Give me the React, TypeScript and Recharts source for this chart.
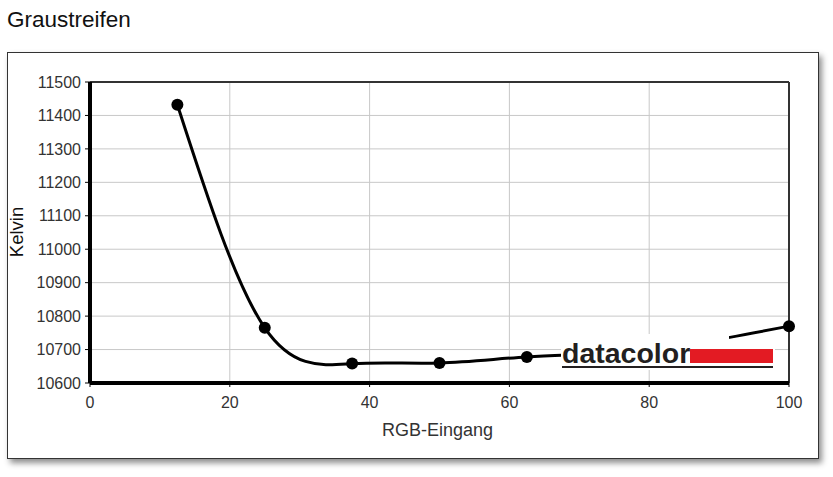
import React from 'react';
import {
  LineChart, Line, XAxis, YAxis, CartesianGrid, ReferenceLine
} from 'recharts';

// RGB input (%) vs. colour temperature (K)
const rgbInput = [12.5, 25, 37.5, 50, 62.5, 75, 87.5, 100];
const kelvin = [11432, 10765, 10658, 10660, 10678, 10690, 10722, 10770];
const xTicks = [0, 20, 40, 60, 80, 100];
const yTicks = [10600, 10700, 10800, 10900, 11000, 11100, 11200, 11300, 11400, 11500];

const data = rgbInput.map((x, i) => ({ x, k: kelvin[i] }));

const font = 'Arial, "Liberation Sans", sans-serif';

// datacolor watermark, sits on top of the curve like in the original export
const Logo = () => (
  <div style={{ position: 'absolute', left: 561, top: 334, width: 214, height: 36 }}>
    <div style={{ position: 'absolute', left: 0, top: 0, width: 168, height: 36, background: '#fff' }} />
    <div style={{ position: 'absolute', left: 128, top: 12, width: 86, height: 24, background: '#fff' }} />
    <div style={{
      position: 'absolute', left: 1, top: 3, fontFamily: font, fontWeight: 'bold',
      fontSize: 28.5, color: '#231f20', lineHeight: '32px', whiteSpace: 'nowrap'
    }}>datacolor</div>
    <div style={{ position: 'absolute', left: 129, top: 15, width: 83, height: 14, background: '#e31b23' }} />
    <div style={{ position: 'absolute', left: 1, top: 32, width: 211, height: 2, background: '#231f20' }} />
  </div>
);

const KelvinLabel = () => (
  <text x={16} y={232} transform="rotate(-90 16 232)" textAnchor="middle" dominantBaseline="central"
    fill="#111" fontSize={18.5} fontFamily={font}>Kelvin</text>
);

const RgbLabel = ({ viewBox }: any) => (
  <text x={viewBox.x + viewBox.width / 2 - 2} y={430} textAnchor="middle" dominantBaseline="central"
    fill="#333" fontSize={18} fontFamily={font}>RGB-Eingang</text>
);

export default function App() {
  return (
    <div style={{ position: 'absolute', left: 0, top: 0, width: 833, height: 477, background: '#fff', fontFamily: font }}>
      <div style={{ position: 'absolute', left: 7, top: 7, fontSize: 22.5, color: '#111' }}>Graustreifen</div>
      <div style={{
        position: 'absolute', left: 7, top: 52, width: 810, height: 405,
        border: '1px solid #333', boxShadow: '3px 4px 6px rgba(0,0,0,0.45)', background: '#fff'
      }} />
      <div style={{ position: 'absolute', left: 0, top: 0 }}>
        <LineChart
          width={833}
          height={477}
          data={data}
          margin={{ top: 82, right: 44, left: 30, bottom: 64 }}
        >
          <CartesianGrid stroke="#c8c8c8" strokeWidth={1} />
          <XAxis
            dataKey="x"
            type="number"
            domain={[0, 100]}
            ticks={xTicks}
            height={30}
            axisLine={{ stroke: '#000', strokeWidth: 4 }}
            tickLine={{ stroke: '#000' }}
            tickSize={4}
            tickMargin={10}
            tick={{ fill: '#333', fontSize: 16, fontFamily: font }}
            label={<RgbLabel />}
          />
          <YAxis
            type="number"
            domain={[10600, 11500]}
            ticks={yTicks}
            width={60}
            interval={0}
            axisLine={{ stroke: '#000', strokeWidth: 4 }}
            tickLine={{ stroke: '#000' }}
            tickSize={5}
            tickMargin={4}
            tick={{ fill: '#333', fontSize: 16, fontFamily: font }}
            label={<KelvinLabel />}
          />
          <ReferenceLine y={11500} stroke="#333" strokeWidth={2} />
          <ReferenceLine x={100} stroke="#333" strokeWidth={2} />
          <Line
            type="natural"
            dataKey="k"
            stroke="#000"
            strokeWidth={3}
            dot={{ r: 6, fill: '#000', stroke: '#000', strokeWidth: 0 }}
            isAnimationActive={false}
          />
        </LineChart>
      </div>
      <Logo />
    </div>
  );
}
